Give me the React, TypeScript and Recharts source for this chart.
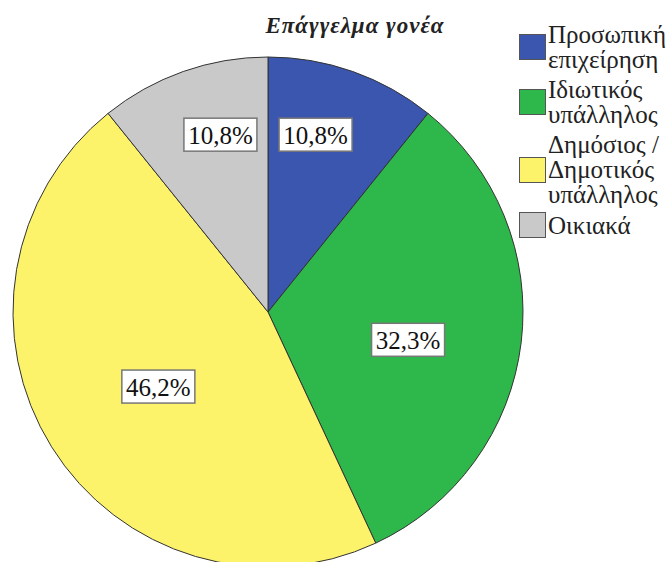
import { PieChart, Pie, Cell, Legend } from 'recharts';

// occupation categories, share of respondents (%)
const categories = [
  'Προσωπική\nεπιχείρηση',
  'Ιδιωτικός\nυπάλληλος',
  'Δημόσιος /\nΔημοτικός\nυπάλληλος',
  'Οικιακά',
];
const percents = [10.8, 32.3, 46.2, 10.8];
const colors = ['#3a56ae', '#2eb84b', '#fdf36b', '#c9c9c9'];

// label placement: distance from centre (fraction of radius) and angle nudge
const labelRadius = [0.72, 0.56, 0.52, 0.72];
const labelNudge = [4.4, -4.3, 2.3, -4.4];

const data = categories.map((name, i) => ({ name, value: percents[i] }));

const SERIF = '"Liberation Serif", "DejaVu Serif", serif';
const RAD = Math.PI / 180;

function renderLabel(props: any) {
  const { cx, cy, midAngle, outerRadius, index, value } = props;
  const r = outerRadius * labelRadius[index];
  const a = (midAngle + labelNudge[index]) * RAD;
  const x = cx + r * Math.cos(-a);
  const y = cy + r * Math.sin(-a);
  const w = 73;
  const h = 33;
  return (
    <g>
      <rect x={x - w / 2} y={y - h / 2} width={w} height={h} fill="#fff" stroke="#777" strokeWidth={1.5} />
      <text
        x={x}
        y={y + 1}
        textAnchor="middle"
        dominantBaseline="central"
        fontFamily={SERIF}
        fontSize={25}
        fill="#111"
      >
        {value.toFixed(1).replace('.', ',')}%
      </text>
    </g>
  );
}

// legend keeps the data order instead of the sorted payload
function LegendBox() {
  return (
    <div style={{ fontFamily: SERIF, fontSize: 25, lineHeight: '25px', color: '#222' }}>
      {categories.map((name, i) => (
        <div key={name} style={{ display: 'flex', alignItems: 'center', marginBottom: 5 }}>
          <div
            style={{
              width: 25,
              height: 24,
              background: colors[i],
              border: '1px solid #555',
              marginRight: 2,
              flexShrink: 0,
            }}
          />
          <div style={{ whiteSpace: 'pre-line' }}>{name}</div>
        </div>
      ))}
    </div>
  );
}

export default function App() {
  return (
    <div style={{ position: 'absolute', left: 0, top: 0, width: 672, height: 562, background: '#fff' }}>
      <div
        style={{
          position: 'absolute',
          top: 13,
          left: 245,
          width: 220,
          textAlign: 'center',
          fontFamily: SERIF,
          fontWeight: 'bold',
          fontStyle: 'italic',
          fontSize: 23,
          letterSpacing: 1,
          color: '#222',
          zIndex: 1,
        }}
      >
        Επάγγελμα γονέα
      </div>
      <PieChart width={672} height={562} margin={{ top: 0, right: 0, bottom: 0, left: 0 }}>
        <Pie
          data={data}
          dataKey="value"
          nameKey="name"
          cx={268}
          cy={312}
          outerRadius={255}
          startAngle={90}
          endAngle={-270}
          stroke="#333"
          strokeWidth={1}
          label={renderLabel}
          labelLine={false}
          isAnimationActive={false}
        >
          {data.map((d, i) => (
            <Cell key={d.name} fill={colors[i]} />
          ))}
        </Pie>
        <Legend
          layout="vertical"
          align="right"
          verticalAlign="top"
          content={<LegendBox />}
          wrapperStyle={{ left: 519, top: 22, width: 153 }}
        />
      </PieChart>
    </div>
  );
}
